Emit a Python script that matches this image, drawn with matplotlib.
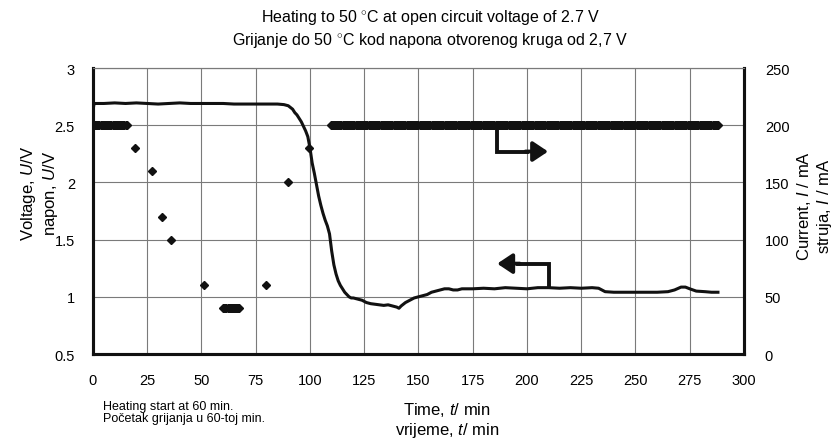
import numpy as np
import matplotlib
matplotlib.use("Agg")
import matplotlib.pyplot as plt

plt.rcParams["font.family"] = ["Liberation Sans", "DejaVu Sans"]
plt.rcParams["mathtext.fontset"] = "custom"
plt.rcParams["mathtext.rm"] = "Liberation Sans"
plt.rcParams["mathtext.it"] = "Liberation Sans:italic"

# voltage curve (time / min, U / V)
t_u = [0, 0.5, 5, 10, 15, 20, 25, 30, 35, 40, 45, 50, 55, 60, 65, 70, 75, 80, 85, 88,
       90, 92, 93, 94, 96, 98, 99, 100, 101, 102, 103, 104, 105, 106, 107, 108, 109,
       110, 111, 112, 113, 114, 115, 116, 117, 118, 119, 120, 122, 124, 126, 128, 130,
       132, 134, 136, 138, 140, 141, 142, 144, 146, 148, 150, 152, 154, 156, 158, 160,
       162, 164, 166, 168, 170, 175, 180, 185, 190, 195, 200, 205, 210, 215, 220, 225,
       230, 233, 236, 240, 245, 250, 255, 260, 265, 268, 271, 273, 275, 278, 282, 285, 288]
u = [2.63, 2.69, 2.69, 2.695, 2.69, 2.695, 2.69, 2.685, 2.69, 2.695, 2.69, 2.69, 2.69,
     2.69, 2.685, 2.685, 2.685, 2.685, 2.685, 2.68,
     2.67, 2.64, 2.61, 2.59, 2.53, 2.45, 2.40, 2.30, 2.17, 2.08, 1.98, 1.88, 1.80, 1.73,
     1.67, 1.62, 1.55, 1.40, 1.28, 1.20, 1.14, 1.10, 1.07, 1.04, 1.02, 1.00, 0.99, 0.99,
     0.98, 0.97, 0.95, 0.94, 0.935, 0.93, 0.925, 0.93, 0.92, 0.91, 0.90, 0.92, 0.95,
     0.97, 0.99, 1.00, 1.01, 1.02, 1.04, 1.05, 1.06, 1.07, 1.07, 1.06, 1.06, 1.07, 1.07,
     1.075, 1.07, 1.08, 1.075, 1.07, 1.08, 1.08, 1.075, 1.08, 1.075, 1.08, 1.075, 1.045,
     1.04, 1.04, 1.04, 1.04, 1.04, 1.045, 1.06, 1.085, 1.085, 1.07, 1.05, 1.045, 1.04, 1.04]

# current points (time / min, I / mA); logged every 0.5 min during the plateaus
t_i_start = np.arange(0, 16, 0.5)
t_i_single = [19.5, 27, 32, 36, 51]
i_single = [180, 160, 120, 100, 60]
t_i_low = np.arange(60, 68, 0.5)
t_i_rise = [79.5, 90, 99.5]
i_rise = [60, 150, 180]
t_i_end = np.arange(109.5, 288.5, 0.5)

t_i = np.concatenate([t_i_start, t_i_single, t_i_low, t_i_rise, t_i_end])
i_ma = np.concatenate([np.full(len(t_i_start), 200), i_single,
                       np.full(len(t_i_low), 40), i_rise,
                       np.full(len(t_i_end), 200)])

fig = plt.figure(figsize=(8.4, 4.39), dpi=100)
ax = fig.add_axes([0.1107, 0.1913, 0.775, 0.6515])
ax2 = ax.twinx()

ax.plot(t_u, u, color="#111111", lw=2.2, zorder=3)
ax2.plot(t_i, i_ma, ls="none", marker="D", ms=4.3, color="#111111", zorder=3)

ax.set_xlim(0, 300)
ax.set_ylim(0.5, 3)
ax2.set_ylim(0, 250)
ax.set_xticks(np.arange(0, 301, 25))
ax.set_yticks([0.5, 1, 1.5, 2, 2.5, 3])
ax.set_yticklabels(["0.5", "1", "1.5", "2", "2.5", "3"])
ax2.set_yticks(np.arange(0, 251, 50))
ax.grid(True, color="#7a7a7a", lw=0.8)
ax.tick_params(axis="x", length=0, labelsize=10.5, pad=14)
ax.tick_params(axis="y", length=0, labelsize=10.5, pad=13)
ax2.tick_params(length=0, labelsize=10.5, pad=15)

for a in (ax, ax2):
    for side in ("left", "bottom", "right"):
        a.spines[side].set_linewidth(2.2)
        a.spines[side].set_color("#111111")
    a.spines["top"].set_linewidth(0.8)
    a.spines["top"].set_color("#7a7a7a")

# direction arrows
ax.plot([186, 186, 200], [2.5, 2.27, 2.27], color="#111111", lw=2.8, solid_joinstyle="miter")
ax.annotate("", xy=(211, 2.27), xytext=(198, 2.27),
            arrowprops=dict(arrowstyle="-|>,head_length=0.9,head_width=0.6",
                            color="#111111", lw=2.8))
ax.plot([210, 210, 196], [1.09, 1.29, 1.29], color="#111111", lw=2.8, solid_joinstyle="miter")
ax.annotate("", xy=(185, 1.29), xytext=(198, 1.29),
            arrowprops=dict(arrowstyle="-|>,head_length=0.9,head_width=0.6",
                            color="#111111", lw=2.8))

fig.text(0.512, 0.982, "Heating to 50 $^{\\circ}$C at open circuit voltage of 2.7 V\n"
         "Grijanje do 50 $^{\\circ}$C kod napona otvorenog kruga od 2,7 V",
         ha="center", va="top", fontsize=11.5, linespacing=1.3)
fig.text(0.047, 0.56, "Voltage, $\\mathit{U}$/V\nnapon, $\\mathit{U}$/V",
         rotation=90, ha="center", va="center", fontsize=12, linespacing=1.15)
fig.text(0.97, 0.53, "Current, $\\mathit{I}$ / mA\nstruja, $\\mathit{I}$ / mA",
         rotation=90, ha="center", va="center", fontsize=12, linespacing=1.15)
fig.text(0.532, 0.042, "Time, $\\mathit{t}$/ min\nvrijeme, $\\mathit{t}$/ min",
         ha="center", va="center", fontsize=12, linespacing=1.15)
fig.text(0.123, 0.059, "Heating start at 60 min.\nPočetak grijanja u 60-toj min.",
         ha="left", va="center", fontsize=9, linespacing=1.05)

fig.savefig("out.png", dpi=100)
